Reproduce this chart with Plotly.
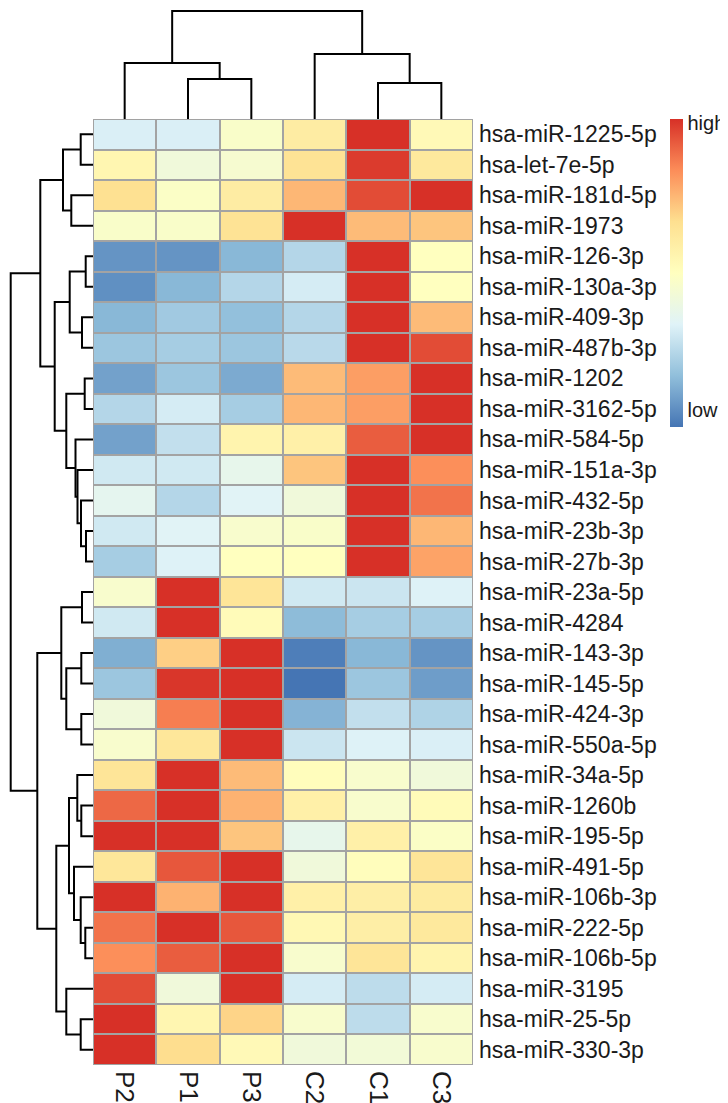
import plotly.graph_objects as go

# ---------------- data ----------------
col_labels = ["P2", "P1", "P3", "C2", "C1", "C3"]
row_labels = [
    "hsa-miR-1225-5p", "hsa-let-7e-5p", "hsa-miR-181d-5p", "hsa-miR-1973",
    "hsa-miR-126-3p", "hsa-miR-130a-3p", "hsa-miR-409-3p", "hsa-miR-487b-3p",
    "hsa-miR-1202", "hsa-miR-3162-5p", "hsa-miR-584-5p", "hsa-miR-151a-3p",
    "hsa-miR-432-5p", "hsa-miR-23b-3p", "hsa-miR-27b-3p", "hsa-miR-23a-5p",
    "hsa-miR-4284", "hsa-miR-143-3p", "hsa-miR-145-5p", "hsa-miR-424-3p",
    "hsa-miR-550a-5p", "hsa-miR-34a-5p", "hsa-miR-1260b", "hsa-miR-195-5p",
    "hsa-miR-491-5p", "hsa-miR-106b-3p", "hsa-miR-222-5p", "hsa-miR-106b-5p",
    "hsa-miR-3195", "hsa-miR-25-5p", "hsa-miR-330-3p",
]
# relative expression (0 = low, 1 = high), columns P2,P1,P3,C2,C1,C3
values = [
    [0.32, 0.32, 0.47, 0.60, 1.00, 0.53],
    [0.55, 0.42, 0.45, 0.65, 0.98, 0.62],
    [0.66, 0.48, 0.60, 0.75, 0.95, 1.00],
    [0.47, 0.47, 0.65, 1.00, 0.74, 0.72],
    [0.07, 0.07, 0.15, 0.24, 1.00, 0.50],
    [0.06, 0.15, 0.24, 0.31, 1.00, 0.50],
    [0.15, 0.20, 0.17, 0.24, 1.00, 0.74],
    [0.19, 0.21, 0.19, 0.25, 1.00, 0.95],
    [0.10, 0.19, 0.12, 0.74, 0.80, 1.00],
    [0.24, 0.31, 0.21, 0.75, 0.80, 1.00],
    [0.10, 0.27, 0.56, 0.58, 0.92, 1.00],
    [0.30, 0.30, 0.37, 0.72, 1.00, 0.83],
    [0.36, 0.24, 0.34, 0.42, 1.00, 0.88],
    [0.30, 0.34, 0.46, 0.47, 1.00, 0.75],
    [0.21, 0.33, 0.50, 0.50, 1.00, 0.79],
    [0.46, 1.00, 0.64, 0.30, 0.29, 0.33],
    [0.30, 1.00, 0.52, 0.16, 0.21, 0.21],
    [0.13, 0.70, 1.00, 0.02, 0.15, 0.07],
    [0.19, 0.99, 1.00, 0.00, 0.19, 0.09],
    [0.42, 0.86, 1.00, 0.14, 0.27, 0.23],
    [0.46, 0.63, 1.00, 0.29, 0.33, 0.32],
    [0.64, 1.00, 0.74, 0.51, 0.46, 0.42],
    [0.90, 1.00, 0.76, 0.58, 0.46, 0.52],
    [1.00, 1.00, 0.72, 0.37, 0.58, 0.48],
    [0.63, 0.93, 1.00, 0.42, 0.51, 0.64],
    [1.00, 0.76, 1.00, 0.58, 0.59, 0.61],
    [0.88, 1.00, 0.93, 0.54, 0.59, 0.62],
    [0.83, 0.92, 1.00, 0.46, 0.64, 0.56],
    [0.95, 0.42, 1.00, 0.31, 0.26, 0.31],
    [1.00, 0.55, 0.69, 0.46, 0.26, 0.46],
    [1.00, 0.67, 0.53, 0.42, 0.43, 0.46],
]
# column clustering: (child_a, child_b, height); leaves 0..5, clusters 6..
col_merges = [(1, 2, 40), (4, 5, 36), (0, 6, 56), (3, 7, 65), (8, 9, 108)]
# row clustering: leaves 0..30, clusters 31..
row_merges = [
    (0, 1, 12.3), (2, 3, 21.7), (31, 32, 30),
    (4, 5, 7.3), (6, 7, 11), (34, 35, 23.3), (8, 9, 8.3),
    (13, 14, 7), (12, 38, 12), (11, 39, 15.5), (10, 40, 17.5),
    (37, 41, 26.7), (36, 42, 38.3), (33, 43, 52.7),
    (15, 16, 11), (17, 18, 11.7), (19, 20, 11.7), (46, 47, 26.7), (45, 48, 31.7),
    (22, 23, 11.7), (21, 50, 15.7), (26, 27, 7.7), (25, 52, 12.3), (24, 53, 19),
    (51, 54, 24), (29, 30, 12.3), (28, 56, 26.7), (55, 57, 36.7),
    (49, 58, 55.7), (44, 59, 82.3),
]
colors = ["#4575B4", "#91BFDB", "#E0F3F8", "#FFFFBF", "#FEE090", "#FC8D59", "#D73027"]

# ---------------- helpers ----------------
def dendro_segments(n, merges):
    pos = {i: float(i) for i in range(n)}
    hgt = {i: 0.0 for i in range(n)}
    P, H = [], []
    for k, (a, b, h) in enumerate(merges):
        c = n + k
        P += [pos[a], pos[a], pos[b], pos[b], None]
        H += [hgt[a], h, h, hgt[b], None]
        pos[c] = (pos[a] + pos[b]) / 2
        hgt[c] = h
    return P, H

W, Hh = 728, 1103
hm_x0, hm_x1, hm_y0, hm_y1 = 85, 465, 111, 1057
font = "Liberation Sans, Arial, sans-serif"

ncol, nrow = len(col_labels), len(row_labels)
scale = [[i / (len(colors) - 1), c] for i, c in enumerate(colors)]

fig = go.Figure()
fig.add_trace(go.Heatmap(
    z=values, x=list(range(ncol)), y=list(range(nrow)),
    colorscale=scale, zmin=0, zmax=1, xgap=2, ygap=2,
    colorbar=dict(
        x=662 / W, xanchor="left", y=1 - 110.7 / Hh, yanchor="top",
        len=307.6 / Hh, lenmode="fraction", thickness=13, thicknessmode="pixels",
        outlinewidth=0, xpad=0, ypad=0, ticks="",
        tickvals=[0.985, 0.055], ticktext=["high", "low"],
        tickfont=dict(family=font, size=20, color="#1a1a1a"),
    ),
    xaxis="x", yaxis="y", hoverinfo="skip",
))

cp, ch = dendro_segments(ncol, col_merges)
fig.add_trace(go.Scatter(x=cp, y=ch, mode="lines", line=dict(color="black", width=2),
                         xaxis="x2", yaxis="y2", showlegend=False, hoverinfo="skip"))
rp, rh = dendro_segments(nrow, row_merges)
fig.add_trace(go.Scatter(x=rh, y=rp, mode="lines", line=dict(color="black", width=2),
                         xaxis="x3", yaxis="y3", showlegend=False, hoverinfo="skip"))

fig.add_shape(type="rect", xref="x", yref="y", x0=-0.5, x1=ncol - 0.5, y0=-0.5, y1=nrow - 0.5,
              fillcolor="#A3A3A3", line=dict(color="#A3A3A3", width=1.5), layer="below")

xd = [hm_x0 / W, hm_x1 / W]
yd = [1 - hm_y1 / Hh, 1 - hm_y0 / Hh]
fig.update_layout(
    width=W, height=Hh, margin=dict(l=0, r=0, t=0, b=0),
    paper_bgcolor="white", plot_bgcolor="white", showlegend=False,
    xaxis=dict(domain=xd, range=[-0.5, ncol - 0.5], tickvals=list(range(ncol)), ticktext=col_labels,
               tickangle=90, ticks="", showgrid=False, zeroline=False, showline=False,
               ticklabelstandoff=5, tickfont=dict(family=font, size=26, color="#1a1a1a"),
               anchor="y", fixedrange=True),
    yaxis=dict(domain=yd, range=[nrow - 0.5, -0.5], tickvals=list(range(nrow)), ticktext=row_labels,
               side="right", ticks="", showgrid=False, zeroline=False, showline=False,
               ticklabelstandoff=5, tickfont=dict(family=font, size=23, color="#1a1a1a"),
               anchor="x", fixedrange=True),
    xaxis2=dict(domain=xd, range=[-0.5, ncol - 0.5], visible=False, anchor="y2"),
    yaxis2=dict(domain=[1 - hm_y0 / Hh, 1], range=[0, 111], visible=False, anchor="x2"),
    xaxis3=dict(domain=[0, hm_x0 / W], range=[85, 0], visible=False, anchor="y3"),
    yaxis3=dict(domain=yd, range=[nrow - 0.5, -0.5], visible=False, anchor="x3"),
)
fig.write_html("out.html")
